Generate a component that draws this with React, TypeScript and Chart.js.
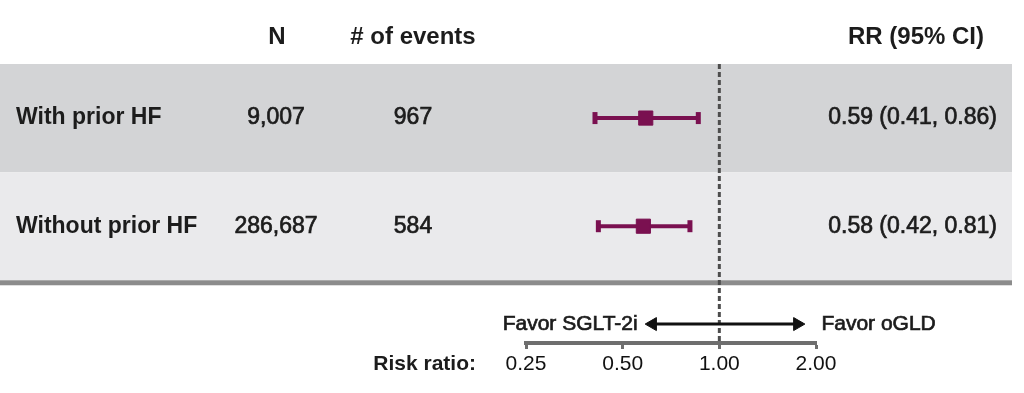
import React, { useEffect, useRef } from "react";
import { Chart, registerables } from "chart.js";

Chart.register(...registerables);

// ---- data ----
const subgroups = ["With prior HF", "Without prior HF"];
const nValues = ["9,007", "286,687"];
const eventCounts = ["967", "584"];
const rrPoint = [0.59, 0.58];
const rrLower = [0.41, 0.42];
const rrUpper = [0.86, 0.81];
const tickValues = [0.25, 0.5, 1, 2];
const headers = ["N", "# of events", "RR (95% CI)"];
const favorLabels = ["Favor SGLT-2i", "Favor oGLD"];
const arrowSpan = [0.62, 1.75];
const axisTitle = "Risk ratio:";
const referenceValue = 1;

// ---- style / layout ----
const MAROON = "#7a1050";
const TEXT = "#1c1c1c";
const FONT = "'Liberation Sans', Arial, Helvetica, sans-serif";
const Y_MAX = 2.58;
const HEADER_ROW = -0.25;
const ARROW_ROW = 2.405;
const BAND_RIGHT = 1012;
const BAND_COLORS = ["#d3d4d6", "#eaeaec"];

function mediumText(ctx: CanvasRenderingContext2D, s: string, x: number, y: number) {
  ctx.fillText(s, x, y);
  ctx.lineWidth = 0.7;
  ctx.strokeStyle = TEXT;
  ctx.strokeText(s, x, y);
}

const decorPlugin = {
  id: "forestDecor",
  beforeDraw(chart: any) {
    const { ctx } = chart;
    const y = chart.scales.y;
    ctx.save();
    subgroups.forEach((_, i) => {
      const top = y.getPixelForValue(i);
      const bot = y.getPixelForValue(i + 1);
      ctx.fillStyle = BAND_COLORS[i % BAND_COLORS.length];
      ctx.fillRect(0, top, BAND_RIGHT, bot - top);
    });
    const base = y.getPixelForValue(subgroups.length);
    ctx.fillStyle = "#8c8c8c";
    ctx.fillRect(0, base, BAND_RIGHT, 5);
    ctx.restore();
  },
  afterDraw(chart: any) {
    const { ctx } = chart;
    const x = chart.scales.x;
    const y = chart.scales.y;
    ctx.save();
    ctx.fillStyle = TEXT;
    ctx.textBaseline = "middle";

    // headers
    const hy = y.getPixelForValue(HEADER_ROW);
    ctx.font = `bold 24px ${FONT}`;
    ctx.textAlign = "center";
    ctx.fillText(headers[0], 277, hy);
    ctx.fillText(headers[1], 413, hy);
    ctx.textAlign = "right";
    ctx.fillText(headers[2], 984, hy);

    // rows
    subgroups.forEach((label, i) => {
      const ry = y.getPixelForValue(i + 0.5);
      ctx.font = `bold 23px ${FONT}`;
      ctx.textAlign = "left";
      ctx.fillText(label, 16, ry);
      ctx.font = `23px ${FONT}`;
      ctx.textAlign = "center";
      mediumText(ctx, nValues[i], 276, ry);
      mediumText(ctx, eventCounts[i], 413, ry);
      ctx.textAlign = "right";
      mediumText(
        ctx,
        `${rrPoint[i].toFixed(2)} (${rrLower[i].toFixed(2)}, ${rrUpper[i].toFixed(2)})`,
        997,
        ry
      );
    });

    // favor labels
    const ay = y.getPixelForValue(ARROW_ROW);
    ctx.font = `21px ${FONT}`;
    ctx.textAlign = "right";
    mediumText(ctx, favorLabels[0], x.getPixelForValue(arrowSpan[0]) - 15, ay);
    ctx.textAlign = "left";
    mediumText(ctx, favorLabels[1], x.getPixelForValue(arrowSpan[1]) + 24, ay);

    // axis title
    ctx.font = `bold 21px ${FONT}`;
    ctx.textAlign = "right";
    ctx.fillText(axisTitle, x.left - 50, x.top + 21);
    ctx.restore();
  },
};

export default function App() {
  const ref = useRef<HTMLCanvasElement | null>(null);

  useEffect(() => {
    if (!ref.current) return;
    Chart.defaults.font.family = FONT;
    const rowY = subgroups.map((_, i) => i + 0.5);

    const chart = new Chart(ref.current, {
      type: "line",
      data: {
        datasets: [
          {
            type: "scatter",
            data: rrPoint.map((v, i) => ({ x: v, y: rowY[i] })),
            showLine: false,
            pointStyle: "rect",
            pointRadius: 10,
            pointHoverRadius: 10,
            pointBackgroundColor: MAROON,
            pointBorderColor: MAROON,
            pointBorderWidth: 1,
            clip: false,
          } as any,
          ...subgroups.map((_, i) => ({
            type: "line",
            data: [
              { x: rrLower[i], y: rowY[i] },
              { x: rrUpper[i], y: rowY[i] },
            ],
            borderColor: MAROON,
            borderWidth: 4,
            fill: false,
            pointStyle: "line",
            pointRotation: 90,
            pointRadius: 6,
            pointHoverRadius: 6,
            pointBorderWidth: 5,
            pointBorderColor: MAROON,
            pointBackgroundColor: MAROON,
            clip: false,
          })) as any[],
          {
            type: "line",
            data: arrowSpan.map((v) => ({ x: v, y: ARROW_ROW })),
            borderColor: "#111",
            borderWidth: 3,
            fill: false,
            pointStyle: "triangle",
            pointRotation: [-90, 90],
            pointRadius: 7.5,
            pointHoverRadius: 7.5,
            pointBackgroundColor: "#111",
            pointBorderColor: "#111",
            pointBorderWidth: 1,
            clip: false,
          } as any,
          {
            type: "line",
            data: [
              { x: referenceValue, y: 0 },
              { x: referenceValue, y: Y_MAX },
            ],
            borderColor: "#4d4d4d",
            borderWidth: 3,
            borderDash: [5, 3],
            pointRadius: 0,
            fill: false,
            clip: false,
          } as any,
        ],
      },
      options: {
        animation: false,
        responsive: false,
        maintainAspectRatio: false,
        events: [],
        layout: { padding: { left: 526, right: 208, top: 64, bottom: 0 } },
        plugins: { legend: { display: false }, tooltip: { enabled: false } },
        scales: {
          x: {
            type: "logarithmic",
            position: "bottom",
            min: 0.25,
            max: 2,
            afterBuildTicks: (s: any) => {
              s.ticks = tickValues.map((v) => ({ value: v }));
            },
            afterFit: (s: any) => {
              s.height = 50;
            },
            ticks: {
              autoSkip: false,
              maxRotation: 0,
              padding: 3,
              color: "#111",
              font: { size: 21, family: FONT },
              callback: (v: any) => Number(v).toFixed(2),
            },
            grid: {
              display: true,
              drawOnChartArea: false,
              drawTicks: true,
              tickLength: 6,
              tickWidth: 3,
              tickColor: "#6e6e6e",
            },
            border: { display: true, color: "#6e6e6e", width: 4 },
          },
          y: {
            type: "linear",
            min: 0,
            max: Y_MAX,
            reverse: true,
            display: false,
          },
        },
      } as any,
      plugins: [decorPlugin],
    });
    return () => chart.destroy();
  }, []);

  return (
    <div style={{ position: "fixed", left: 0, top: 0, width: 1024, height: 393, background: "#fff" }}>
      <canvas ref={ref} width={1024} height={393} style={{ display: "block" }} />
    </div>
  );
}
